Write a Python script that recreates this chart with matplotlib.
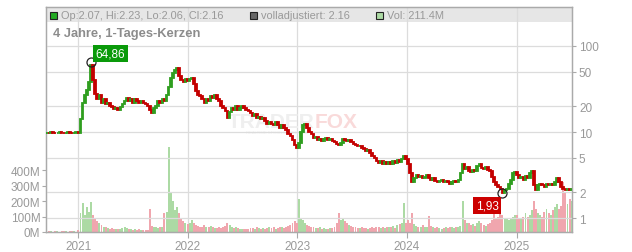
import matplotlib
matplotlib.use("Agg")
import matplotlib.pyplot as plt
import matplotlib.dates as mdates
from matplotlib.patches import Rectangle
import numpy as np
import pandas as pd

plt.rcParams['font.family'] = ['Liberation Sans', 'DejaVu Sans']

# weekly closes, one list per calendar year
close_2020 = [9.8, 9.7, 9.9, 9.8, 9.7, 9.8, 9.9, 9.8, 9.7, 9.8, 9.9, 9.8, 9.7, 9.8, 9.9]
close_2021 = [9.8, 14, 22, 27, 31, 38, 60, 40, 28, 24, 27, 22, 24, 21, 22, 20, 19.5, 18.5,
              19, 18, 19.5, 21, 23, 25, 23, 24, 22, 24, 23, 22, 23, 22, 21, 20, 18, 16.5,
              19, 20, 23, 22, 24, 23, 27, 33, 42, 48, 53, 55, 45, 40, 38, 41, 39]
close_2022 = [41, 43, 36, 30, 27, 26, 24, 22, 24, 23, 26, 25, 27, 24, 23, 20, 19, 17.5,
              14.5, 17, 19, 18, 20, 18, 19, 20, 19, 18, 17.5, 16.5, 15.5, 16, 14.5, 15,
              14, 14.5, 13.5, 12.5, 13, 12.5, 12, 13, 12, 11, 12, 11, 10.5, 9.5, 9, 8,
              7, 6.5]
close_2023 = [7.5, 10, 12, 12.5, 11, 10, 9.5, 8.5, 8.8, 8, 8.3, 7.8, 8.2, 8.5, 8, 8.3,
              7.9, 7.6, 7.3, 7.0, 7.5, 8.2, 8.0, 7.8, 8.1, 7.6, 7.3, 7.0, 6.8, 6.9, 6.5,
              6.3, 6.0, 6.2, 5.7, 5.3, 5.0, 4.6, 4.4, 4.6, 4.3, 4.5, 4.2, 4.5, 4.3, 4.6,
              4.4, 4.7, 4.5, 4.9, 5.2, 4.8]
close_2024 = [4.2, 3.3, 2.6, 2.9, 3.2, 3.0, 3.1, 2.9, 3.0, 3.2, 2.9, 2.8, 2.9, 2.7, 2.6,
              2.7, 2.8, 2.6, 2.7, 2.6, 2.5, 2.6, 2.7, 2.6, 2.8, 3.3, 4.2, 3.7, 3.9, 3.5,
              3.4, 3.6, 3.5, 4.0, 4.3, 3.8, 3.7, 3.9, 3.6, 3.5, 3.0, 2.6, 2.4, 2.3, 2.2,
              1.97, 2.1, 2.2, 2.5, 2.8, 3.3, 3.4]
close_2025 = [3.2, 2.9, 3.0, 2.8, 3.1, 2.9, 3.3, 3.5, 2.4, 2.1, 2.4, 2.5, 2.4, 2.3, 2.5,
              2.4, 2.5, 2.4, 2.6, 2.9, 2.6, 2.3, 2.2, 2.1, 2.2, 2.1, 2.16]

# weekly volume in millions
vol_2020 = [3, 4, 6, 3, 5, 4, 3, 5, 4, 6, 3, 4, 5, 4, 3]
vol_2021 = [10, 120, 190, 110, 160, 130, 195, 110, 90, 70, 60, 45, 35, 30, 25, 20, 25, 20,
            18, 22, 20, 25, 30, 28, 22, 18, 15, 20, 15, 18, 14, 16, 12, 15, 150, 40,
            30, 35, 25, 30, 35, 120, 130, 550, 255, 200, 140, 160, 120, 90, 70, 60, 50]
vol_2022 = [60, 80, 55, 45, 40, 35, 30, 45, 30, 35, 40, 30, 28, 25, 30, 28, 35, 40, 55,
            45, 30, 25, 30, 28, 22, 20, 22, 18, 20, 25, 28, 22, 30, 25, 20, 25, 22, 28,
            30, 25, 30, 22, 28, 30, 35, 28, 32, 40, 45, 55, 70, 60]
vol_2023 = [210, 90, 75, 60, 45, 40, 35, 30, 28, 25, 30, 22, 25, 20, 22, 25, 28, 35, 60,
            125, 80, 90, 70, 55, 45, 40, 35, 30, 28, 25, 30, 25, 28, 22, 25, 30, 28, 35,
            30, 28, 32, 25, 30, 35, 30, 40, 28, 45, 50, 55, 190, 60]
vol_2024 = [80, 60, 125, 50, 40, 35, 30, 45, 35, 30, 105, 40, 30, 25, 30, 28, 22, 25, 30,
            28, 35, 30, 28, 30, 35, 40, 200, 80, 60, 55, 45, 50, 40, 60, 70, 55, 45, 40,
            50, 60, 80, 225, 90, 100, 150, 110, 90, 85, 80, 90, 100, 110]
vol_2025 = [110, 90, 85, 100, 120, 95, 110, 140, 200, 150, 120, 110, 100, 130, 150, 120,
            110, 140, 160, 180, 150, 170, 320, 260, 180, 210, 200]

peak_date, peak_value, peak_label = "2021-02-12", 64.86, "64,86"
low_date, low_value, low_label = "2024-11-15", 1.93, "1,93"

price_ticks = [1, 2, 5, 10, 20, 50, 100]
vol_ticks = [0, 100, 200, 300, 400]

closes = np.array(close_2020 + close_2021 + close_2022 + close_2023 + close_2024 + close_2025)
volumes = np.array(vol_2020 + vol_2021 + vol_2022 + vol_2023 + vol_2024 + vol_2025)
dates = pd.date_range("2020-09-18", periods=len(closes), freq="W-FRI")
x = mdates.date2num(dates)
opens = np.concatenate([[closes[0]], closes[:-1]])
up = closes >= opens

GREEN, RED = "#2f9e1f", "#c40000"
VGREEN, VRED = "#acdaa4", "#f0a6ae"
GRID, SPINE, TXT = "#dcdcdc", "#aaaaaa", "#999999"

fig = plt.figure(figsize=(6.32, 2.53), dpi=100)
W, H = 632, 253
left, right, top, bottom = 46, 572, 8, 233
ax_vol = fig.add_axes([left / W, 1 - bottom / H, (right - left) / W, (bottom - top) / H])
ax_price = ax_vol.twinx()

# volume
ax_vol.bar(x, volumes, width=6.5, color=np.where(up, VGREEN, VRED), linewidth=0, zorder=2)
ax_vol.set_ylim(0, 1452)
ax_vol.set_yticks(vol_ticks)
ax_vol.set_yticklabels([f"{v}M" for v in vol_ticks])
ax_vol.set_xlim(mdates.datestr2num("2020-09-15"), mdates.datestr2num("2025-07-05"))
ax_vol.xaxis.set_major_locator(mdates.YearLocator())
ax_vol.xaxis.set_major_formatter(mdates.DateFormatter("%Y"))
ax_vol.set_axisbelow(True)
ax_vol.grid(axis="x", color=GRID, linewidth=0.9)
ax_vol.add_patch(Rectangle((0, (bottom - 23) / (bottom - top)), 1, 1, transform=ax_vol.transAxes,
                           facecolor="#e6e6e6", edgecolor="none", zorder=0))

# watermark
ax_vol.text(0.51, 0.49, "TRADER", transform=ax_vol.transAxes, ha="right", va="center",
            fontsize=15, fontweight="bold", color="#efefef", zorder=1)
ax_vol.text(0.51, 0.49, "FOX", transform=ax_vol.transAxes, ha="left", va="center",
            fontsize=15, fontweight="bold", color="#f9dada", zorder=1)
ax_vol.text(0.44, 0.445, "REALTIME STOCK SCREENING", transform=ax_vol.transAxes, ha="center",
            va="center", fontsize=3, color="#eeeeee", zorder=1)

# candles (weekly bodies)
lo = np.minimum(opens, closes)
hi = np.maximum(opens, closes)
ax_price.bar(x, hi - lo, bottom=lo, width=5.5, color=np.where(up, GREEN, RED),
             edgecolor=np.where(up, GREEN, RED), linewidth=1.3, zorder=3)
ax_price.set_yscale("log")
ax_price.set_ylim(0.688, 284)
ax_price.set_yticks(price_ticks)
ax_price.set_yticklabels([str(t) for t in price_ticks])
ax_price.yaxis.set_minor_locator(plt.NullLocator())
ax_price.set_axisbelow(True)
ax_price.grid(axis="y", color=GRID, linewidth=0.9)

# extreme markers
px, lx = mdates.datestr2num(peak_date), mdates.datestr2num(low_date)
ax_price.plot([px, lx], [peak_value, low_value], "o", ms=6.5, mfc="none", mec="#222222",
              mew=0.9, zorder=5)
ax_price.annotate(peak_label, (px, peak_value), xytext=(14, 6), textcoords="offset points",
                  ha="center", va="center", fontsize=8.5, color="white", zorder=6,
                  bbox=dict(boxstyle="square,pad=0.2", fc="#0a9a0a", ec="none"))
ax_price.annotate(low_label, (lx, low_value), xytext=(-11, -8.5), textcoords="offset points",
                  ha="center", va="center", fontsize=8.5, color="white", zorder=6,
                  bbox=dict(boxstyle="square,pad=0.2", fc="#cc0000", ec="none"))

for a in (ax_vol, ax_price):
    for s in a.spines.values():
        s.set_color(SPINE)
        s.set_linewidth(0.9)
    a.tick_params(colors=SPINE, labelcolor=TXT, labelsize=8.5, length=3, width=0.8)
ax_price.tick_params(axis="y", pad=2)
ax_vol.tick_params(axis="y", pad=1)
ax_vol.tick_params(axis="x", length=4, pad=2)

# header legend
def header_item(px_x, face, label):
    fig.add_artist(Rectangle(((px_x) / W, 1 - 20 / H), 7 / W, 7 / H, transform=fig.transFigure,
                             facecolor=face, edgecolor="#222222", linewidth=0.8))
    fig.text((px_x + 11) / W, 1 - 16 / H, label, ha="left", va="center", fontsize=7.9, color=TXT)

header_item(50, "#22aa22", "Op:2.07, Hi:2.23, Lo:2.06, Cl:2.16")
header_item(250, "#666666", "volladjustiert: 2.16")
header_item(376, VGREEN, "Vol: 211.4M")
fig.text(53 / W, 1 - 34 / H, "4 Jahre, 1-Tages-Kerzen", ha="left", va="center",
         fontsize=9.3, fontweight="bold", color="#8c8c8c")

fig.savefig("out.png", dpi=100)
